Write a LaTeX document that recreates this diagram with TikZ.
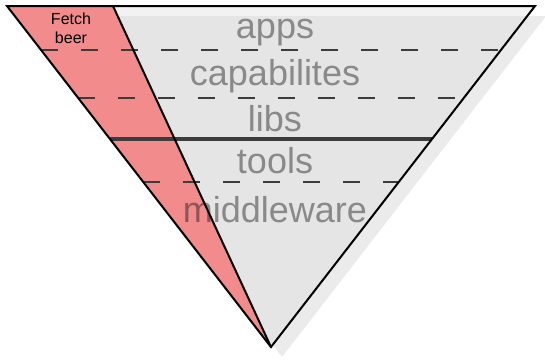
\documentclass[tikz,border=0pt]{standalone}
\usepackage{fontspec}
\setmainfont{Liberation Sans}
\usetikzlibrary{calc}
\definecolor{beerred}{RGB}{242,139,139}
\definecolor{linegray}{RGB}{60,60,60}

\begin{document}
\begin{tikzpicture}[x=1pt,y=-1pt,
        layer/.style={text=black,text opacity=0.4,anchor=base,
            font=\fontsize{36}{36}\selectfont},
        sep/.style={linegray,line width=2.8pt,dash pattern=on 17pt off 23pt},
        edge/.style={black,line width=2pt}
    ]
        \useasboundingbox (0,0) rectangle (545,360);
        \begin{scope}
        % Corners of the funnel:
        \coordinate (tl) at (7,6);
        \coordinate (tr) at (535,6);
        \coordinate (apex) at (271,347);
        \coordinate (rt) at (113,6);

        % shadow behind the funnel
        \fill[black!8] ([shift={(11,10)}]tl) -- ([shift={(11,10)}]tr)
            -- ([shift={(11,10)}]apex) -- cycle;
        \fill[black!13,fill opacity=0.4] (tl) -- (tr) -- (apex) -- cycle;

        % the red slice
        \fill[beerred] (tl) -- (rt) -- (apex) -- cycle;
        \node[align=center,inner sep=0pt,font=\fontsize{16}{19}\selectfont]
            (beer) at (71,28) {Fetch\\beer};

        % layers
        \foreach \name/\y/\txt in {apps/38/apps, caps/85/capabilites,
                libs/131/libs, tools/173/tools, mw/222/middleware}
            \node[layer] (\name) at (275,\y) {\txt};

        % separators between layers
        \foreach \t in {0.129, 0.270, 0.516}
            \draw[sep] ($(tl)!\t!(apex)$) -- ($(tr)!\t!(apex)$);
        \draw[linegray,line width=3.2pt] ($(tl)!0.390!(apex)$) -- ($(tr)!0.390!(apex)$);

        % outline
        \draw[edge] (rt) -- (apex);
        \draw[edge] (tl) -- (tr) -- (apex) -- cycle;
        \end{scope}
\end{tikzpicture}
\end{document}
